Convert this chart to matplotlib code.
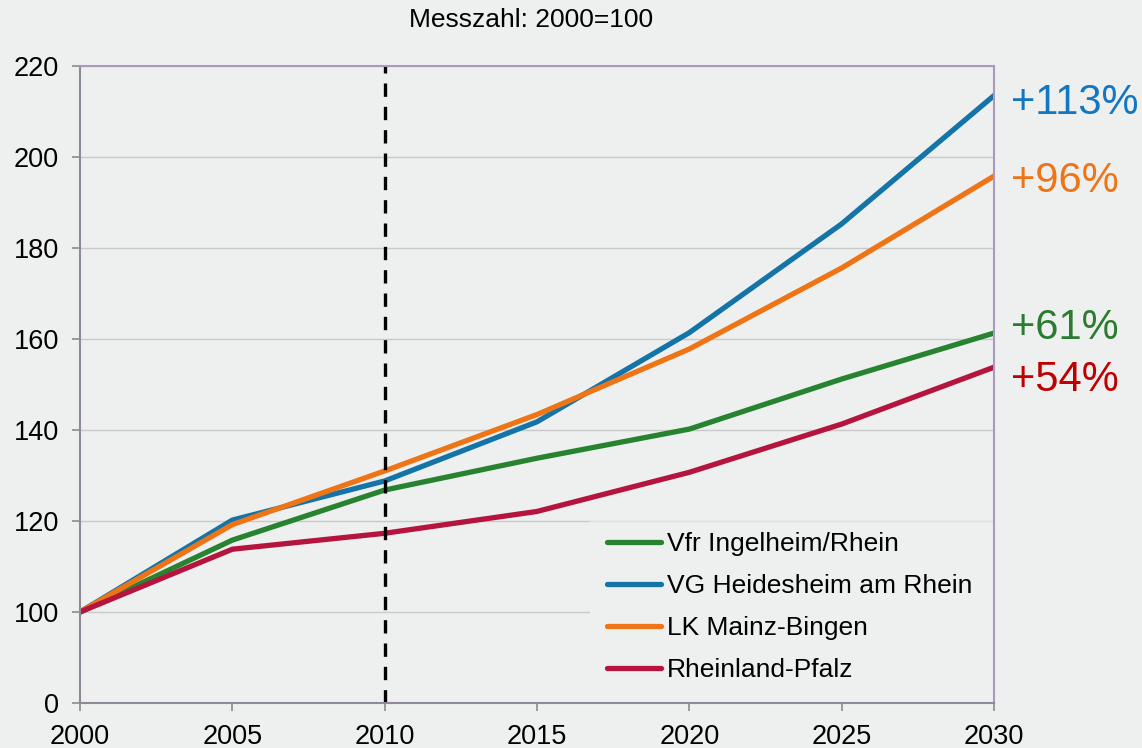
import matplotlib
matplotlib.use("Agg")
import matplotlib.pyplot as plt
from matplotlib.patches import Rectangle
from matplotlib.lines import Line2D

plt.rcParams['font.family'] = ['Liberation Sans', 'DejaVu Sans']

years = [2000, 2005, 2010, 2015, 2020, 2025, 2030]
series_names = ["Vfr Ingelheim/Rhein", "VG Heidesheim am Rhein", "LK Mainz-Bingen", "Rheinland-Pfalz"]
ingelheim = [100, 115.8, 126.8, 133.8, 140.2, 151.2, 161.3]
heidesheim = [100, 120.2, 128.8, 141.8, 161.4, 185.3, 213.5]
mainz_bingen = [100, 119.2, 131.0, 143.4, 157.8, 175.6, 195.8]
rlp = [100, 113.8, 117.3, 122.1, 130.7, 141.3, 153.8]
pct_labels = ["+61%", "+113%", "+96%", "+54%"]
ytick_vals = [80, 100, 120, 140, 160, 180, 200, 220]
ytick_labels = ["0", "100", "120", "140", "160", "180", "200", "220"]
title = "Messzahl: 2000=100"

colors = ["#27832f", "#1474a8", "#ef7415", "#b5143f"]
text_colors = ["#2a7d30", "#1276c2", "#ef7415", "#c00000"]
label_offsets = [(12, 3.8), (12, -5), (12, -3.3), (12, -9.4)]

bg = "#eef0ef"
fig = plt.figure(figsize=(11.42, 7.48), dpi=100, facecolor=bg)
ax = fig.add_axes([80/1142, 45/748, 914/1142, 637/748])
ax.set_facecolor(bg)
ax.set_axisbelow(True)

data = [ingelheim, heidesheim, mainz_bingen, rlp]
for name, vals, c in zip(series_names, data, colors):
    ax.plot(years, vals, color=c, lw=3.8, label=name, solid_capstyle='round', zorder=3)

for vals, lab, tc, off in zip(data, pct_labels, text_colors, label_offsets):
    ax.annotate(lab, xy=(years[-1], vals[-1]), xytext=off, textcoords='offset points',
                color=tc, fontsize=30, va='center', ha='left', annotation_clip=False)

ax.axvline(2010, color='black', lw=2.4, ls=(0, (4, 3.0)), zorder=4)

ax.set_xlim(2000, 2030)
ax.set_ylim(80, 220)
ax.set_xticks(years)
ax.set_xticklabels([str(y) for y in years])
ax.set_yticks(ytick_vals)
ax.set_yticklabels(ytick_labels)
ax.tick_params(axis='both', labelsize=19.5, length=6, width=1.2, color='#8a8a8a', pad=9, labelcolor='black')
ax.grid(axis='y', color='#c9c9c9', lw=1.0)

for s in ['left', 'bottom']:
    ax.spines[s].set_color('#8f8a95')
    ax.spines[s].set_linewidth(1.5)
for s in ['top', 'right']:
    ax.spines[s].set_color('#ab98bf')
    ax.spines[s].set_linewidth(1.5)
for s in ax.spines.values():
    s.set_zorder(6)

# legend box (no left border, faint top edge)
bx0 = (590 - 80) / 914
bh = (703 - 521) / 637
box = Rectangle((bx0, 0), 1 - bx0, bh, transform=ax.transAxes,
                facecolor=bg, edgecolor='none', zorder=2)
ax.add_patch(box)
ax.add_line(Line2D([bx0, 1], [bh, bh], transform=ax.transAxes, color='#e2e2e2', lw=1.0, zorder=2.1))

leg = ax.legend(loc='upper left', bbox_to_anchor=((607-80)/914, (703-532)/637), borderaxespad=0.0,
                fontsize=19, handlelength=2.05, handletextpad=0.22, labelspacing=0.68,
                borderpad=0.0, frameon=False)
leg.set_zorder(6)
for h in leg.get_lines():
    h.set_solid_capstyle('round')

fig.text(531/1142, 1 - 20/748, title, ha='center', va='center', fontsize=19)

fig.savefig("out.png", dpi=100, facecolor=bg)
